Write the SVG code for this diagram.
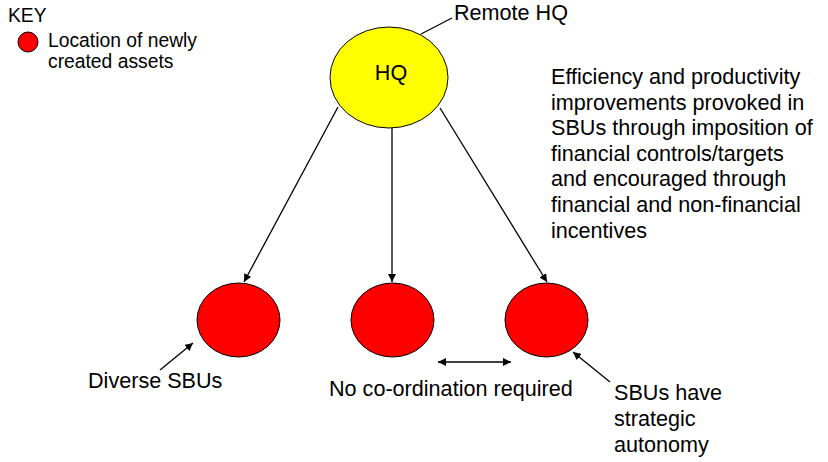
<svg xmlns="http://www.w3.org/2000/svg" width="828" height="462" viewBox="0 0 828 462">
<style>
text{font-family:"Liberation Sans",Arial,sans-serif;fill:#000}
.t{font-size:21.6px}
.k{font-size:19.3px}
.red{fill:#ff0000;stroke:#000;stroke-width:1}
.ln{stroke:#000;stroke-width:1.3;fill:none}
</style>
<defs>
<marker id="ah" viewBox="0 0 10 10" refX="10" refY="5" markerWidth="8" markerHeight="8" markerUnits="userSpaceOnUse" orient="auto-start-reverse">
<path d="M0,0 L10,5 L0,10 z" fill="#000"/>
</marker>
</defs>
<rect width="828" height="462" fill="#fff"/>
<g id="key">
<text class="k" x="8" y="22">KEY</text>
<circle class="red" cx="28" cy="42" r="10"/>
<text class="k" x="48" y="47">Location of newly</text>
<text class="k" x="48" y="68">created assets</text>
</g>
<g id="connectors">
<line class="ln" x1="421" y1="34" x2="452" y2="18"/>
<line class="ln" x1="338" y1="107" x2="244" y2="282" marker-end="url(#ah)"/>
<line class="ln" x1="392" y1="128" x2="392" y2="282" marker-end="url(#ah)"/>
<line class="ln" x1="440" y1="108" x2="547" y2="282" marker-end="url(#ah)"/>
<line class="ln" x1="160" y1="370" x2="193" y2="343" marker-end="url(#ah)"/>
<line class="ln" x1="438" y1="362" x2="511" y2="362" marker-start="url(#ah)" marker-end="url(#ah)"/>
<line class="ln" x1="610" y1="382" x2="573" y2="352" marker-end="url(#ah)"/>
</g>
<g id="hq">
<ellipse cx="389" cy="77.5" rx="59" ry="50.5" fill="#ffff00" stroke="#000" stroke-width="1"/>
<text class="t" x="391" y="80" text-anchor="middle">HQ</text>
</g>
<g id="remote-hq"><text class="t" x="454" y="20">Remote HQ</text></g>
<g id="sbu1"><ellipse class="red" cx="238.5" cy="320" rx="41.5" ry="37"/></g>
<g id="sbu2"><ellipse class="red" cx="392.5" cy="320" rx="41.5" ry="37"/></g>
<g id="sbu3"><ellipse class="red" cx="546.5" cy="320" rx="41.5" ry="37"/></g>
<g id="note">
<text class="t" x="551">
<tspan x="551" y="84">Efficiency and productivity</tspan>
<tspan x="551" y="109.6">improvements provoked in</tspan>
<tspan x="551" y="135.2">SBUs through imposition of</tspan>
<tspan x="551" y="160.8">financial controls/targets</tspan>
<tspan x="551" y="186.4">and encouraged through</tspan>
<tspan x="551" y="212">financial and non-financial</tspan>
<tspan x="551" y="237.6">incentives</tspan>
</text>
</g>
<g id="diverse"><text class="t" x="88" y="388">Diverse SBUs</text></g>
<g id="nocoord"><text class="t" x="329" y="396">No co-ordination required</text></g>
<g id="autonomy">
<text class="t"><tspan x="614" y="400">SBUs have</tspan><tspan x="614" y="426">strategic</tspan><tspan x="614" y="452">autonomy</tspan></text>
</g>
</svg>
